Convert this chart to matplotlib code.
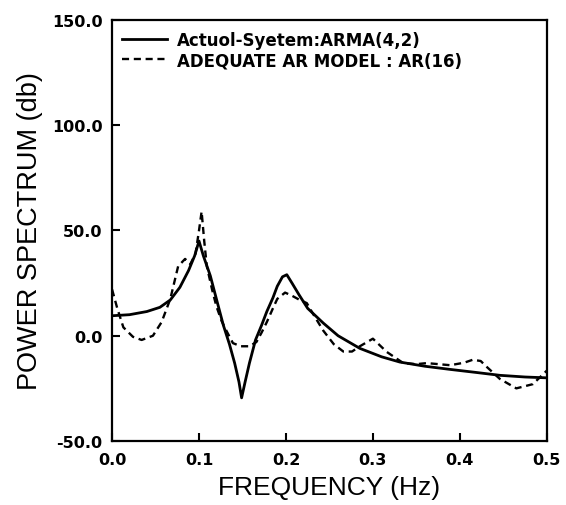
import matplotlib
matplotlib.use("Agg")
import matplotlib.pyplot as plt

# frequency (Hz) / power spectrum (db)
arma_freq = [0.0, 0.02, 0.04, 0.055, 0.067, 0.078, 0.088, 0.095, 0.1, 0.105,
             0.113, 0.12, 0.128, 0.135, 0.141, 0.146, 0.149, 0.153, 0.158, 0.165,
             0.172, 0.178, 0.185, 0.19, 0.196, 0.201, 0.207, 0.215, 0.225, 0.243,
             0.26, 0.285, 0.31, 0.331, 0.36, 0.389, 0.42, 0.446, 0.475, 0.5]
arma_db = [9.5, 10, 11.5, 13.5, 17, 23, 31, 38, 45, 38,
           28.5, 17.5, 5, -4, -13, -22, -29.5, -22, -13, -2,
           5, 11.5, 18, 23.5, 28, 29, 25, 19.5, 13, 6,
           0, -6, -10, -12.5, -14.5, -16, -17.5, -18.8, -19.6, -20]

ar_freq = [0.0, 0.006, 0.013, 0.024, 0.034, 0.047, 0.057, 0.067, 0.076, 0.084,
           0.09, 0.096, 0.1, 0.103, 0.106, 0.109, 0.115, 0.12, 0.126, 0.132,
           0.139, 0.148, 0.158, 0.166, 0.172, 0.178, 0.185, 0.19, 0.199, 0.207,
           0.215, 0.224, 0.231, 0.243, 0.255, 0.266, 0.276, 0.285, 0.3, 0.316,
           0.335, 0.35, 0.362, 0.389, 0.405, 0.415, 0.424, 0.431, 0.446, 0.465,
           0.484, 0.5]
ar_db = [22, 13, 4, -0.5, -2, 0, 6.5, 17.5, 33, 36.5,
         34, 39, 50, 59, 45, 33, 22, 14, 7, 2,
         -3.5, -5, -5, -3, 1.5, 6.5, 13, 17.5, 20.5, 19,
         17.2, 15.5, 10.5, 2.4, -4, -7.5, -7.5, -5, -1.4, -7.7,
         -13, -13.5, -13, -14, -12.8, -11.4, -12, -14.8, -20.5, -25,
         -23, -16.6]

x_ticks = [0.0, 0.1, 0.2, 0.3, 0.4, 0.5]
y_ticks = [-50.0, 0.0, 50.0, 100.0, 150.0]

fig = plt.figure(figsize=(5.66, 5.06), dpi=100)
ax = fig.add_axes([0.198, 0.1265, 0.768, 0.832])

ax.plot(arma_freq, arma_db, color="black", lw=2.0,
        label="Actuol-Syetem:ARMA(4,2)")
ax.plot(ar_freq, ar_db, color="black", lw=1.7, linestyle=(0, (3, 2)),
        label="ADEQUATE AR MODEL : AR(16)")

ax.set_xlim(0, 0.5)
ax.set_ylim(-50, 150)
ax.set_xticks(x_ticks)
ax.set_yticks(y_ticks)
ax.set_xticklabels([f"{v:.1f}" for v in x_ticks], fontweight="bold", fontsize=11.5)
ax.set_yticklabels([f"{v:.1f}" for v in y_ticks], fontweight="bold", fontsize=11.5)
ax.tick_params(direction="in", length=6, width=1.5)
ax.tick_params(axis="x", pad=8)
ax.tick_params(axis="y", pad=7)

for s in ax.spines.values():
    s.set_linewidth(1.6)

ax.set_xlabel("FREQUENCY (Hz)", fontsize=19, family="Liberation Sans", labelpad=6)
ax.set_ylabel("POWER SPECTRUM (db)", fontsize=19.5, family="Liberation Sans", labelpad=6)

leg = ax.legend(loc="upper left", bbox_to_anchor=(0.023, 0.975), frameon=False,
                borderpad=0, borderaxespad=0, handlelength=2.7,
                handletextpad=0.6, labelspacing=0.15,
                prop={"weight": "bold", "size": 12})

fig.savefig("out.png", dpi=100)
plt.close(fig)
